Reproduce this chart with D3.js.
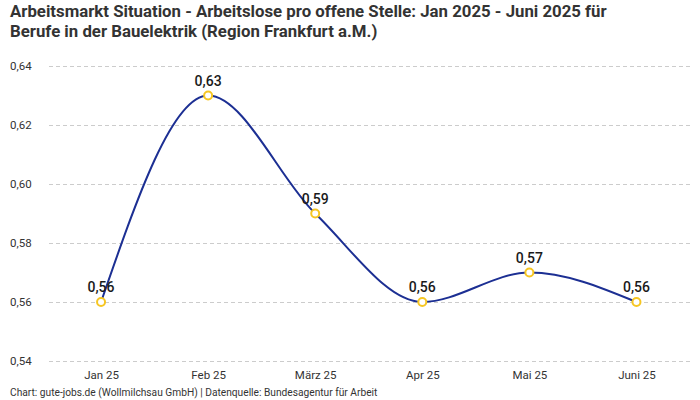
<!DOCTYPE html>
<html>
<head>
<meta charset="utf-8">
<script src="https://cdn.jsdelivr.net/npm/d3@7"></script>
<style>
  body { margin: 0; background: #fff; }
  svg { display: block; font-family: "Roboto", "Noto Sans", sans-serif; }
</style>
</head>
<body>
<svg id="chart"></svg>
<script>
const months = ["Jan 25", "Feb 25", "März 25", "Apr 25", "Mai 25", "Juni 25"];
const ratios = [0.56, 0.63, 0.59, 0.56, 0.57, 0.56];
const yTicks = [0.54, 0.56, 0.58, 0.60, 0.62, 0.64];
const titleLines = [
  "Arbeitsmarkt Situation - Arbeitslose pro offene Stelle: Jan 2025 - Juni 2025 für",
  "Berufe in der Bauelektrik (Region Frankfurt a.M.)"
];
const credit = "Chart: gute-jobs.de (Wollmilchsau GmbH) | Datenquelle: Bundesagentur für Arbeit";

const width = 700, height = 400;
const margin = ({top: 66, right: 10, bottom: 39, left: 47.5});

const fmt = v => d3.format(".2f")(v).replace(".", ",");
const data = months.map((m, i) => ({month: m, value: ratios[i]}));

const svg = d3.select("#chart")
    .attr("viewBox", [0, 0, width, height])
    .attr("width", width)
    .attr("height", height);

let x = d3.scalePoint()
    .domain(months)
    .range([margin.left, width - margin.right])
    .padding(0.5);

let y = d3.scaleLinear()
    .domain([0.54, 0.64])
    .range([height - margin.bottom, margin.top]);

// title
svg.append("g")
  .selectAll("text")
  .data(titleLines)
  .join("text")
    .attr("x", 10)
    .attr("y", (d, i) => 17 + i * 20)
    .attr("font-size", 16.8)
    .attr("font-weight", "bold")
    .attr("fill", "#333")
    .text(d => d);

// grid + y labels
let yAxis = g => g
    .attr("transform", `translate(${width - margin.right},0)`)
    .call(d3.axisLeft(y).tickValues(yTicks).tickSize(width - margin.right - margin.left).tickFormat(fmt))
    .call(g => g.select(".domain").remove())
    .call(g => g.selectAll(".tick line")
        .attr("stroke", "#cccccc")
        .attr("stroke-dasharray", "4,3"))
    .call(g => g.selectAll(".tick text")
        .attr("x", -(width - margin.right) + 10)
        .attr("dy", "0.32em")
        .attr("text-anchor", "start")
        .attr("font-size", 11.5)
        .attr("font-family", "Roboto, sans-serif")
        .attr("fill", "#333"));

let xAxis = g => g
    .attr("transform", `translate(0,${height - margin.bottom})`)
    .call(d3.axisBottom(x).tickSize(0).tickPadding(10))
    .call(g => g.select(".domain").remove())
    .call(g => g.selectAll(".tick text")
        .attr("font-size", 11.5)
        .attr("font-family", "Roboto, sans-serif")
        .attr("fill", "#333"));

svg.append("g").call(yAxis);
svg.append("g").call(xAxis);

let line = d3.line()
    .curve(d3.curveMonotoneX)
    .x(d => x(d.month))
    .y(d => y(d.value));

svg.append("path")
    .datum(data)
    .attr("fill", "none")
    .attr("stroke", "#1c2f93")
    .attr("stroke-width", 2)
    .attr("stroke-linejoin", "round")
    .attr("stroke-linecap", "round")
    .attr("d", line);

svg.append("g")
  .selectAll("circle")
  .data(data)
  .join("circle")
    .attr("cx", d => x(d.month))
    .attr("cy", d => y(d.value))
    .attr("r", 4)
    .attr("fill", "#fff")
    .attr("stroke", "#f6c623")
    .attr("stroke-width", 2);

svg.append("g")
  .selectAll("text")
  .data(data)
  .join("text")
    .attr("x", d => x(d.month))
    .attr("y", d => y(d.value) - 10)
    .attr("text-anchor", "middle")
    .attr("font-size", 14)
    .attr("font-weight", 500)
    .attr("fill", "#1a1a1a")
    .text(d => fmt(d.value));

svg.append("text")
    .attr("x", 10)
    .attr("y", 396)
    .attr("font-size", 10.2)
    .attr("fill", "#333")
    .text(credit);
</script>
</body>
</html>
